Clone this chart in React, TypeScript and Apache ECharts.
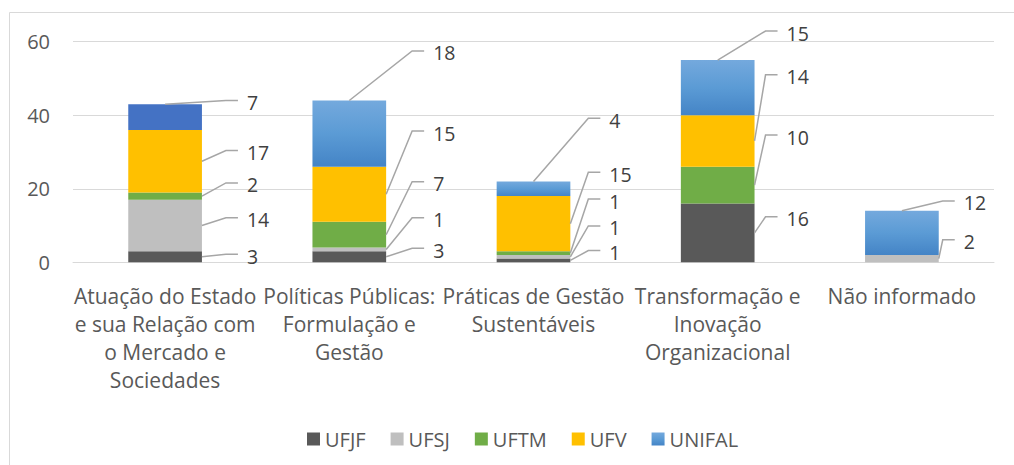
import React, { useEffect, useRef } from 'react';
import * as echarts from 'echarts';

const categories = [
  'Atuação do Estado\ne sua Relação com\no Mercado e\nSociedades',
  'Políticas Públicas:\nFormulação e\nGestão',
  'Práticas de Gestão\nSustentáveis',
  'Transformação e\nInovação\nOrganizacional',
  'Não informado',
];

const seriesNames = ['UFJF', 'UFSJ', 'UFTM', 'UFV', 'UNIFAL'];

const ufjf = [3, 3, 1, 16, 0];
const ufsj = [14, 1, 1, 0, 2];
const uftm = [2, 7, 1, 10, 0];
const ufv = [17, 15, 15, 14, 0];
const unifal = [7, 18, 4, 15, 12];

const yMin = 0;
const yMax = 60;
const yStep = 20;

// Height (in axis units) where each callout's leader line meets its label
const calloutUFJF = [2.2, 3.8, 3.2, 12.4, 0];
const calloutUFSJ = [12.1, 12.1, 9.9, 0, 6.1];
const calloutUFTM = [21.6, 21.9, 17.2, 34.6, 0];
const calloutUFV = [30.4, 35.7, 24.5, 51.0, 0];
const calloutUNIFAL = [44.0, 57.5, 39.2, 62.9, 16.7];

// Horizontal reach of the leader line beyond each bar's right edge (px)
const leaderReach = [36, 38, 30, 23, 16];

const values = [ufjf, ufsj, uftm, ufv, unifal];
const callouts = [calloutUFJF, calloutUFSJ, calloutUFTM, calloutUFV, calloutUNIFAL];

const FONT = "'Open Sans', 'Noto Sans', sans-serif";
const TEXT = '#595959';

const unifalGradient = new echarts.graphic.LinearGradient(0, 0, 0, 1, [
  { offset: 0, color: '#74A9DD' },
  { offset: 0.5, color: '#5B9BD5' },
  { offset: 1, color: '#4484C6' },
]);
const colors = ['#595959', '#BFBFBF', '#70AD47', '#FFC000', unifalGradient];

export default function App() {
  const ref = useRef<HTMLDivElement>(null);

  useEffect(() => {
    document.body.style.margin = '0';
    if (!ref.current) return;
    const chart = echarts.init(ref.current, undefined, { renderer: 'svg' });

    const barSeries = seriesNames.map((name, s) => ({
      name,
      type: 'bar',
      stack: 'total',
      barWidth: '40%',
      itemStyle: { color: colors[s] },
      data: values[s].map((v, c) =>
        s === 4 && c === 0 ? { value: v, itemStyle: { color: '#4472C4' } } : v
      ),
    }));

    const calloutData: number[][] = [];
    for (let s = 0; s < values.length; s++) {
      for (let c = 0; c < categories.length; c++) {
        const v = values[s][c];
        if (!v) continue;
        let lo = 0;
        for (let k = 0; k < s; k++) lo += values[k][c];
        calloutData.push([c, lo, lo + v, callouts[s][c], v, s === values.length - 1 ? 1 : 0]);
      }
    }

    const calloutSeries = {
      type: 'custom',
      silent: true,
      clip: false,
      z: 10,
      encode: { x: 0, y: 3 },
      data: calloutData,
      renderItem: (params: any, api: any) => {
        const c = api.value(0);
        const lo = api.value(1);
        const hi = api.value(2);
        const at = api.value(3);
        const v = api.value(4);
        const isTop = api.value(5) === 1;
        const band = api.size([1, 0])[0];
        const cx = api.coord([c, 0])[0];
        const right = cx + band * 0.2;
        const start = isTop
          ? [cx, api.coord([c, hi])[1]]
          : [right, api.coord([c, (lo + hi) / 2])[1]];
        const ly = api.coord([c, at])[1];
        const endX = right + leaderReach[c];
        return {
          type: 'group',
          children: [
            {
              type: 'polyline',
              shape: { points: [start, [endX - 12, ly], [endX, ly]] },
              style: { stroke: '#A6A6A6', lineWidth: 1.5, fill: 'none' },
            },
            {
              type: 'text',
              x: endX + 9,
              y: ly + 2,
              style: {
                text: String(v),
                fill: '#404040',
                fontSize: 19.5,
                lineHeight: 18,
                fontFamily: FONT,
                align: 'left',
                verticalAlign: 'middle',
              },
            },
          ],
        };
      },
    };

    chart.setOption({
      animation: false,
      backgroundColor: '#ffffff',
      textStyle: { fontFamily: FONT },
      graphic: [
        {
          type: 'rect',
          shape: { x: 9.5, y: 12.5, width: 1100, height: 600 },
          style: { fill: 'none', stroke: '#D9D9D9', lineWidth: 1 },
          silent: true,
        },
      ],
      grid: {
        left: 73,
        right: 20,
        top: 41.7,
        bottom: 202.7,
        containLabel: false,
        outerBoundsMode: 'none',
      },
      legend: {
        data: seriesNames,
        left: 302,
        top: 424,
        icon: 'rect',
        itemWidth: 13,
        itemHeight: 13,
        itemGap: 25,
        textStyle: { fontSize: 20, lineHeight: 14, color: TEXT, fontFamily: FONT },
      },
      xAxis: {
        type: 'category',
        data: categories,
        axisLine: { lineStyle: { color: '#D9D9D9', width: 1 } },
        axisTick: { show: false },
        axisLabel: {
          interval: 0,
          fontSize: 21,
          lineHeight: 28,
          color: TEXT,
          fontFamily: FONT,
          margin: 20,
        },
      },
      yAxis: {
        type: 'value',
        min: yMin,
        max: yMax,
        interval: yStep,
        axisLine: { show: false },
        axisTick: { show: false },
        splitLine: { lineStyle: { color: '#D9D9D9', width: 1 } },
        axisLabel: { fontSize: 20, color: TEXT, fontFamily: FONT, margin: 23 },
      },
      series: [...barSeries, calloutSeries],
    });

    return () => chart.dispose();
  }, []);

  return <div ref={ref} style={{ width: 1014, height: 465 }} />;
}
